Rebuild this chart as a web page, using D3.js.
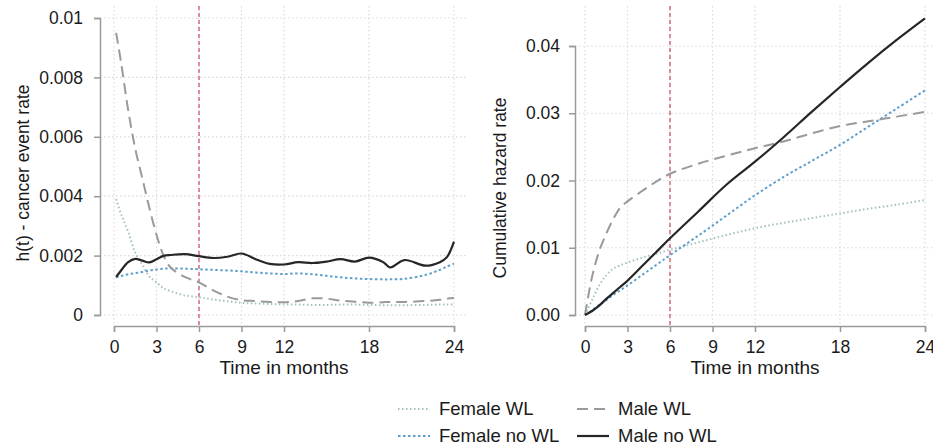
<!DOCTYPE html>
<html>
<head>
<meta charset="utf-8">
<script src="https://cdn.jsdelivr.net/npm/d3@7"></script>
<style>
  body { margin: 0; background: #fff; }
  svg { font-family: "Liberation Sans", Arial, sans-serif; }
</style>
</head>
<body>
<div class="chart"></div>
<script>
// ---- data ----
const xTicks = [0, 3, 6, 9, 12, 18, 24];
const hazardTicks = [0, 0.002, 0.004, 0.006, 0.008, 0.01];
const hazardTickLabels = ["0", "0.002", "0.004", "0.006", "0.008", "0.01"];
const cumTicks = [0, 0.01, 0.02, 0.03, 0.04];
const cumTickLabels = ["0.00", "0.01", "0.02", "0.03", "0.04"];
const cutoffMonth = 6;

const seriesNames = ["Female WL", "Female no WL", "Male WL", "Male no WL"];

// left panel: hazard h(t)
const hazardMonths = [0.15, 0.5, 1, 1.5, 2, 2.5, 3, 3.5, 4, 5, 6, 7, 8, 9, 10, 11, 12, 13, 14, 15, 16, 17, 18, 19, 19.5, 20.5, 22, 23, 23.5, 24];
const hazardFemaleWL = [0.0039, 0.0034, 0.0028, 0.0021, 0.0017, 0.0013, 0.0011, 0.0009, 0.0008, 0.00066, 0.0006, 0.00052, 0.00046, 0.00041, 0.00039, 0.00037, 0.00036, 0.00035, 0.00034, 0.00034, 0.00035, 0.00035, 0.00034, 0.00033, 0.00033, 0.00033, 0.00034, 0.00035, 0.00035, 0.00035];
const hazardFemaleNoWL = [0.00127, 0.00131, 0.00137, 0.00141, 0.00145, 0.0015, 0.00153, 0.00156, 0.00157, 0.00156, 0.00154, 0.00152, 0.0015, 0.00147, 0.00143, 0.0014, 0.00138, 0.0014, 0.00137, 0.00132, 0.00127, 0.00123, 0.00121, 0.0012, 0.0012, 0.00122, 0.00135, 0.00152, 0.00163, 0.00173];
const hazardMaleWL = [0.0095, 0.0085, 0.0069, 0.0056, 0.0046, 0.0036, 0.0027, 0.002, 0.0016, 0.00128, 0.0011, 0.00083, 0.00062, 0.0005, 0.00047, 0.00044, 0.00043, 0.00047, 0.00056, 0.00055, 0.00048, 0.00045, 0.00041, 0.00043, 0.00044, 0.00044, 0.00047, 0.00051, 0.00055, 0.00057];
const hazardMaleNoWL = [0.00128, 0.0015, 0.00178, 0.00189, 0.00183, 0.00177, 0.00188, 0.00199, 0.00202, 0.00205, 0.00198, 0.00192, 0.00196, 0.00207, 0.00188, 0.00172, 0.0017, 0.00178, 0.00175, 0.0018, 0.00188, 0.0018, 0.00193, 0.00178, 0.0016, 0.00185, 0.00166, 0.00178, 0.00195, 0.00247];

// right panel: cumulative hazard
const cumMonths = [0, 0.5, 1, 1.5, 2, 2.5, 3, 4, 5, 6, 8, 10, 12, 14, 16, 18, 20, 22, 24];
const cumFemaleWL = [0, 0.0022, 0.0044, 0.0059, 0.0069, 0.0074, 0.0078, 0.0085, 0.0091, 0.0097, 0.0108, 0.0119, 0.0129, 0.0137, 0.0144, 0.0151, 0.0158, 0.0164, 0.0171];
const cumFemaleNoWL = [0, 0.0007, 0.0015, 0.0022, 0.003, 0.0037, 0.0044, 0.0059, 0.0074, 0.0089, 0.0118, 0.0148, 0.0178, 0.0205, 0.0229, 0.0253, 0.028, 0.0307, 0.0334];
const cumMaleWL = [0, 0.0057, 0.0095, 0.0121, 0.0143, 0.016, 0.0169, 0.0184, 0.0198, 0.021, 0.0225, 0.0237, 0.0248, 0.0258, 0.027, 0.0281, 0.0288, 0.0295, 0.0302];
const cumMaleNoWL = [0, 0.0006, 0.0014, 0.0024, 0.0033, 0.0042, 0.0051, 0.0072, 0.0093, 0.0114, 0.0154, 0.0194, 0.0228, 0.0264, 0.0302, 0.0339, 0.0375, 0.0409, 0.0441];

// ---- styles ----
const styles = {
  "Female WL":    { color: "#a3c2bb", width: 2,   dash: "1.5,2.5" },
  "Female no WL": { color: "#5e9fcb", width: 2,   dash: "2.5,2.5" },
  "Male WL":      { color: "#9a9a9a", width: 2,   dash: "11,6" },
  "Male no WL":   { color: "#262626", width: 2.2, dash: null }
};

const width = 933, height = 448;
const axisColor = "#9a9a9a", gridColor = "#d9d9d9", cutColor = "#c94a5e";

const svg = d3.select(".chart")
  .append("svg")
  .attr("width", width)
  .attr("height", height);

function drawPanel(opts) {
  const x = d3.scaleLinear().domain([0, 24]).range(opts.xRange);
  const y = d3.scaleLinear().domain(opts.yDomain).range(opts.yRange);
  const g = svg.append("g");
  const box = opts.box; // plot region [x0, x1, y0, y1]

  // dotted grid
  g.append("g").selectAll("line")
    .data(xTicks)
    .join("line")
    .attr("x1", d => x(d)).attr("x2", d => x(d))
    .attr("y1", box[2]).attr("y2", box[3])
    .attr("stroke", gridColor)
    .attr("stroke-width", 1.2)
    .attr("stroke-dasharray", "1.5,2.5");
  g.append("g").selectAll("line")
    .data(opts.yTicks)
    .join("line")
    .attr("x1", box[0]).attr("x2", box[1])
    .attr("y1", d => y(d)).attr("y2", d => y(d))
    .attr("stroke", gridColor)
    .attr("stroke-width", 1.2)
    .attr("stroke-dasharray", "1.5,2.5");

  // axes
  const xAxis = g.append("g")
    .attr("transform", "translate(0," + box[3] + ")")
    .call(d3.axisBottom(x).tickValues(xTicks).tickSizeOuter(0).tickSize(6).tickPadding(9));
  const yAxis = g.append("g")
    .attr("transform", "translate(" + box[0] + ",0)")
    .call(d3.axisLeft(y).tickValues(opts.yTicks).tickSizeOuter(0).tickSize(6).tickPadding(opts.yPad)
      .tickFormat((d, i) => opts.yLabels[i]));
  [xAxis, yAxis].forEach(a => {
    a.select(".domain").attr("stroke", axisColor).attr("stroke-width", 1.5);
    a.selectAll(".tick line").attr("stroke", axisColor).attr("stroke-width", 1.5);
    a.selectAll(".tick text")
      .attr("fill", "#1a1a1a")
      .style("font-size", "17.5px")
      .style("font-family", "'Liberation Sans', Arial, sans-serif");
  });

  // 6 month cut-off
  g.append("line")
    .attr("x1", x(cutoffMonth)).attr("x2", x(cutoffMonth))
    .attr("y1", box[2]).attr("y2", box[3])
    .attr("stroke", cutColor)
    .attr("stroke-width", 1.2)
    .attr("stroke-dasharray", "4,3");

  // curves
  const line = d3.line()
    .x(d => x(d[0]))
    .y(d => y(d[1]))
    .curve(d3.curveCatmullRom);

  opts.series.forEach((vals, i) => {
    const s = styles[seriesNames[i]];
    g.append("path")
      .datum(opts.months.map((m, j) => [m, vals[j]]))
      .attr("fill", "none")
      .attr("stroke", s.color)
      .attr("stroke-width", s.width)
      .attr("stroke-dasharray", s.dash)
      .attr("d", line);
  });

  // titles
  g.append("text")
    .attr("x", (opts.xRange[0] + opts.xRange[1]) / 2)
    .attr("y", 374)
    .attr("text-anchor", "middle")
    .attr("fill", "#1a1a1a")
    .style("font-size", "19px")
    .text("Time in months");
  g.append("text")
    .attr("transform", "translate(" + opts.yTitleX + "," + opts.yTitleY + ") rotate(-90)")
    .attr("text-anchor", "middle")
    .attr("fill", "#1a1a1a")
    .style("font-size", "17.5px")
    .text(opts.yTitle);
}

drawPanel({
  xRange: [114, 454],
  yDomain: [0, 0.01], yRange: [315, 18],
  box: [100, 468, 6, 326],
  yTicks: hazardTicks, yLabels: hazardTickLabels, yPad: 11,
  months: hazardMonths,
  series: [hazardFemaleWL, hazardFemaleNoWL, hazardMaleWL, hazardMaleNoWL],
  yTitle: "h(t) - cancer event rate", yTitleX: 29, yTitleY: 173
});

drawPanel({
  xRange: [585, 925],
  yDomain: [0, 0.04], yRange: [315, 46],
  box: [575, 940, 6, 326],
  yTicks: cumTicks, yLabels: cumTickLabels, yPad: 9,
  months: cumMonths,
  series: [cumFemaleWL, cumFemaleNoWL, cumMaleWL, cumMaleNoWL],
  yTitle: "Cumulative hazard rate", yTitleX: 506, yTitleY: 188
});

// legend, two columns
const legendPos = [[398, 409], [398, 436], [577, 409], [577, 436]];
const legend = svg.append("g").attr("class", "legend");
seriesNames.forEach((name, i) => {
  const s = styles[name];
  const [lx, ly] = legendPos[i];
  legend.append("line")
    .attr("x1", lx).attr("x2", lx + 32)
    .attr("y1", ly).attr("y2", ly)
    .attr("stroke", s.color)
    .attr("stroke-width", s.width)
    .attr("stroke-dasharray", s.dash);
  legend.append("text")
    .attr("x", lx + 41)
    .attr("y", ly + 6)
    .attr("fill", "#1a1a1a")
    .style("font-size", "18.5px")
    .text(name);
});
</script>
</body>
</html>
